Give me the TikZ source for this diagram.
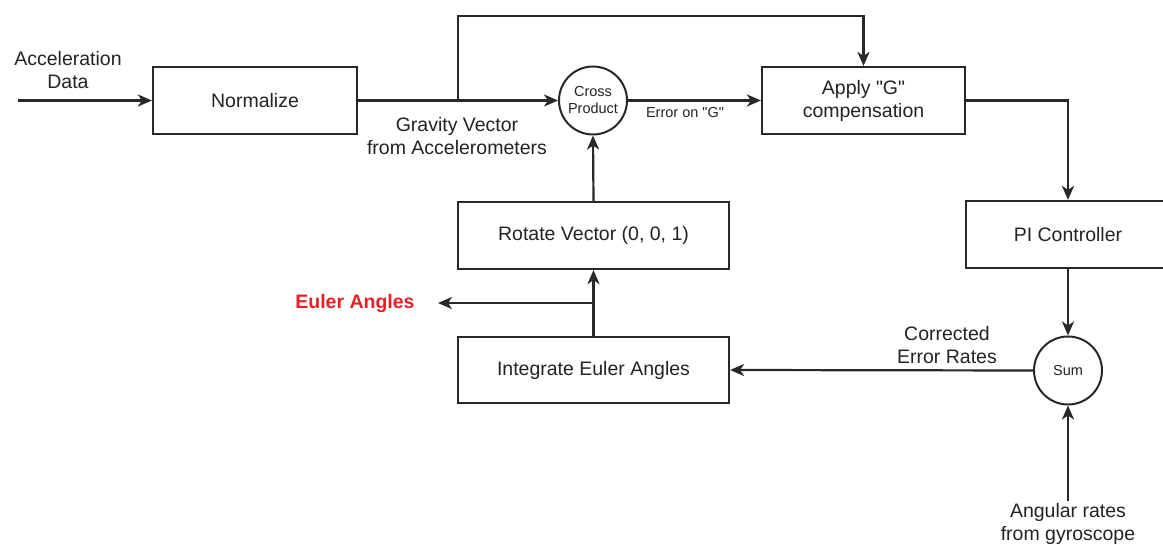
\documentclass[tikz,border=0pt]{standalone}
\usepackage{fontspec}
\setmainfont{Liberation Sans}
\usetikzlibrary{arrows.meta}
\definecolor{ln}{RGB}{40,40,40}
\definecolor{tx}{RGB}{35,35,35}
\definecolor{eul}{RGB}{232,32,36}
\newcommand{\qd}{\textquotedbl}
\begin{document}
\begin{tikzpicture}[x=1pt,y=-1pt,
  box/.style={draw=ln,line width=2.2pt,rectangle,inner sep=0pt,text=tx,
    font=\fontsize{19.5}{23}\selectfont,align=center},
  circ/.style={draw=ln,line width=2pt,circle,inner sep=0pt,minimum size=68pt,text=tx,
    font=\fontsize{14.5}{17}\selectfont,align=center},
  lbl/.style={text=tx,font=\fontsize{19.5}{23}\selectfont,align=center,inner sep=1pt},
  slbl/.style={text=tx,font=\fontsize{14.5}{17}\selectfont,align=center,inner sep=1pt},
  arr/.style={draw=ln,line width=2.2pt,-{Stealth[length=14pt,width=12pt,inset=4pt]}}]
\useasboundingbox (0,0) rectangle (1163,545);
\fill[white] (0,0) rectangle (1163,545);
% blocks
\node[box,minimum width=204pt,minimum height=67pt] (norm) at (255,100.5) {Normalize};
\node[circ] (cross) at (593,100.5) {Cross\\Product};
\node[box,minimum width=203pt,minimum height=67pt] (apply) at (863.5,100.5) {Apply \qd G\qd\\compensation};
\node[box,minimum width=204pt,minimum height=67pt] (pi) at (1068,234.5) {PI Controller};
\node[circ] (sum) at (1068,370.5) {Sum};
\node[box,minimum width=271pt,minimum height=66pt] (integ) at (593.5,370) {Integrate Euler Angles};
\node[box,minimum width=271pt,minimum height=67pt] (rot) at (593.5,235.5) {Rotate Vector (0, 0, 1)};
% labels
\node[lbl] (accel) at (68,70) {Acceleration\\Data};
\node[lbl] (grav) at (457,136.5) {Gravity Vector\\from Accelerometers};
\node[slbl] (err) at (685,113) {Error on \qd G\qd};
\node[lbl] (corr) at (947,345) {Corrected\\Error Rates};
\node[lbl] (ang) at (1068,523.5) {Angular rates\\from gyroscope};
\node[text=eul,font=\bfseries\fontsize{19.5}{23}\selectfont,inner sep=1pt] (euler) at (355,304) {Euler Angles};
% coordinates
\coordinate (in) at (18,100.5);
\coordinate (br) at (458,100.5);
\coordinate (top) at (458,16);
\coordinate (eb) at (593.5,303);
\coordinate (eend) at (438,303);
\coordinate (gy) at (1068,501);
% connectors
\draw[arr] (in) -- (norm.west);
\draw[arr] (norm.east) -- (cross.west);
\draw[arr] (br) -- (top) -| (apply.north);
\draw[arr] (cross.east) -- (apply.west);
\draw[arr] (apply.east) -| (pi.north);
\draw[arr] (pi.south) -- (sum.north);
\draw[arr] (sum.west) -- (integ.east);
\draw[arr] (gy) -- (sum.south);
\draw[arr] (integ.north) -- (rot.south);
\draw[arr] (eb) -- (eend);
\draw[arr] (rot.north) -- (cross.south);
\end{tikzpicture}
\end{document}
